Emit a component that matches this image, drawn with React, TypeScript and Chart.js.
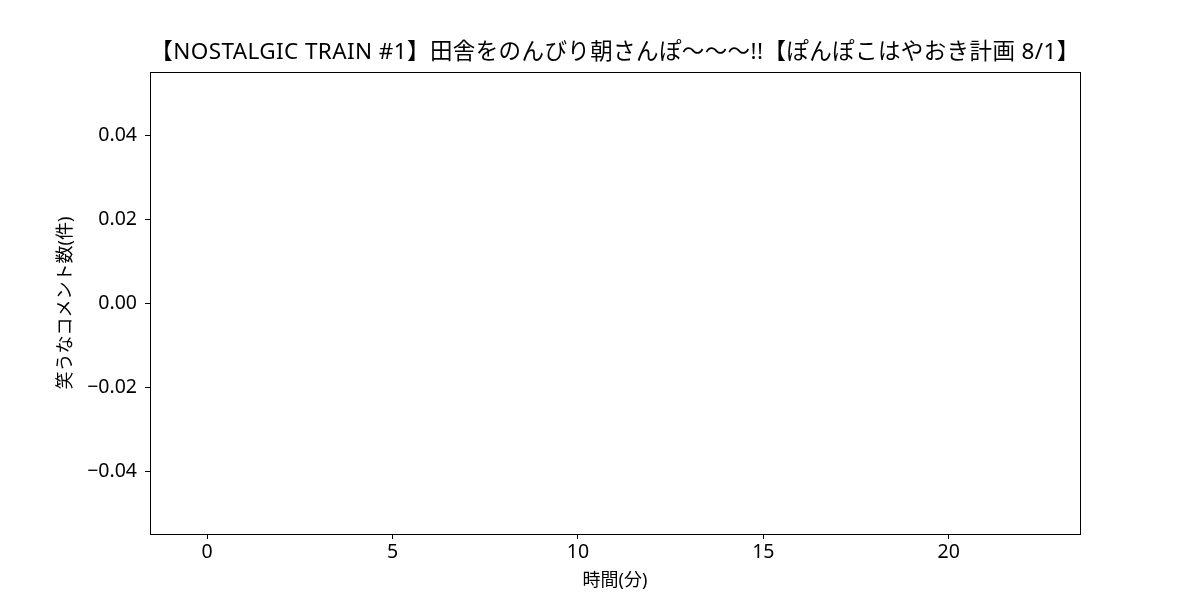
import React, { useEffect, useRef } from "react";
import { Chart, registerables } from "chart.js";

Chart.register(...registerables);

const TITLE = "【NOSTALGIC TRAIN #1】田舎をのんびり朝さんぽ〜〜〜!!【ぽんぽこはやおき計画 8/1】";
const X_LABEL = "時間(分)";
const Y_LABEL = "笑うなコメント数(件)";

const minutes = [0, 1, 2, 3, 4, 5, 6, 7, 8, 9, 10, 11, 12, 13, 14, 15, 16, 17, 18, 19, 20, 21, 22];
const laughCounts = [0, 0, 0, 0, 0, 0, 0, 0, 0, 0, 0, 0, 0, 0, 0, 0, 0, 0, 0, 0, 0, 0, 0];
const xTicks = [0, 5, 10, 15, 20];
const yTicks = [-0.04, -0.02, 0, 0.02, 0.04];

const FONT = "'Noto Sans', 'Noto Sans CJK JP', sans-serif";

export default function App() {
  const ref = useRef<HTMLCanvasElement | null>(null);

  useEffect(() => {
    if (!ref.current) return;
    const framePlugin = {
      id: "frameAndText",
      afterDraw(chart: any) {
        const { ctx, chartArea } = chart;
        const { left, right, top, bottom } = chartArea;
        ctx.save();
        ctx.strokeStyle = "#000";
        ctx.lineWidth = 1;
        ctx.strokeRect(Math.round(left) + 0.5, Math.round(top) + 0.5, Math.round(right - left), Math.round(bottom - top));
        ctx.fillStyle = "#000";
        ctx.textAlign = "center";
        ctx.textBaseline = "middle";
        ctx.font = `22.5px ${FONT}`;
        (ctx as any).textRendering = "optimizeSpeed";
        (ctx as any).letterSpacing = "0.4px";
        ctx.fillText(TITLE, (left + right) / 2, 53);
        (ctx as any).letterSpacing = "0px";
        ctx.font = `18px ${FONT}`;
        ctx.fillText(X_LABEL, (left + right) / 2, 581);
        ctx.translate(66, (top + bottom) / 2);
        ctx.rotate(-Math.PI / 2);
        ctx.fillText(Y_LABEL, 0, 0);
        ctx.restore();
      },
    };

    const chart = new Chart(ref.current, {
      type: "bar",
      data: {
        datasets: [
          {
            label: Y_LABEL,
            data: minutes.map((m, i) => ({ x: m, y: laughCounts[i] })),
            backgroundColor: "#1f77b4",
            borderWidth: 0,
            barPercentage: 0.8,
            categoryPercentage: 1,
          },
        ],
      },
      options: {
        animation: false,
        responsive: false,
        devicePixelRatio: 1,
        layout: { padding: { top: 72, right: 120, left: 0, bottom: 0 } },
        plugins: {
          legend: { display: false },
          title: { display: false },
          tooltip: { enabled: false },
        },
        scales: {
          x: {
            type: "linear",
            min: -1.54,
            max: 23.54,
            offset: false,
            afterBuildTicks: (scale: any) => {
              scale.ticks = xTicks.map((v) => ({ value: v }));
            },
            afterFit: (scale: any) => {
              scale.height = 66;
            },
            grid: { offset: false, drawOnChartArea: false, drawTicks: true, tickLength: 5, color: "#000", lineWidth: 1 },
            border: { display: true, color: "#000", width: 1 },
            ticks: {
              color: "#000",
              padding: 2,
              font: { family: FONT, size: 19.5 },
              maxRotation: 0,
              autoSkip: false,
              callback: (v: any) => String(v),
            },
          },
          y: {
            type: "linear",
            min: -0.055,
            max: 0.055,
            afterBuildTicks: (scale: any) => {
              scale.ticks = yTicks.map((v) => ({ value: v }));
            },
            afterFit: (scale: any) => {
              scale.width = 150;
            },
            grid: { drawOnChartArea: false, drawTicks: true, tickLength: 5, color: "#000", lineWidth: 1 },
            border: { display: true, color: "#000", width: 1 },
            ticks: {
              color: "#000",
              padding: 8,
              font: { family: FONT, size: 19.5 },
              autoSkip: false,
              callback: (v: any) => {
                const n = Number(v);
                const s = Math.abs(n).toFixed(2);
                return n < 0 ? "\u2212" + s : s;
              },
            },
          },
        },
      },
      plugins: [framePlugin],
    });
    return () => chart.destroy();
  }, []);

  return (
    <div style={{ position: "absolute", left: 0, top: 0, width: 1200, height: 600, background: "#fff" }}>
      <canvas ref={ref} width={1200} height={600} style={{ width: 1200, height: 600 }} />
    </div>
  );
}
